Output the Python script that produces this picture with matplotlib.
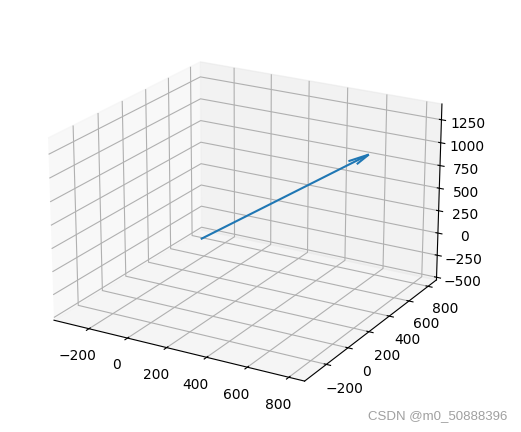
import numpy as np
import matplotlib
matplotlib.use('Agg')
import matplotlib.pyplot as plt

# arrow start and direction
origin = [-23, 274, 0]
vector = [567, 556, 777]
xlim = [-385, 875]
ylim = [-395, 890]
zlim = [-530, 1420]
xticks = [-200, 0, 200, 400, 600, 800]
yticks = [-200, 0, 200, 400, 600, 800]
zticks = [-500, -250, 0, 250, 500, 750, 1000, 1250]

fig = plt.figure(figsize=(5.21, 4.32), dpi=100)
ax = fig.add_axes([-0.033, -0.003, 1.0, 1.0], projection='3d')
ax.view_init(elev=21, azim=-60)
ax.set_box_aspect((4, 4, 2.7))
ax.quiver(origin[0], origin[1], origin[2], vector[0], vector[1], vector[2], arrow_length_ratio=0.1)
ax.set_xlim(xlim)
ax.set_ylim(ylim)
ax.set_zlim(zlim)
ax.set_xticks(xticks)
ax.set_yticks(yticks)
ax.set_zticks(zticks)

fig.text(0.973, 0.022, 'CSDN @m0_50888396', ha='right', va='bottom', fontsize=9.5,
         color='#a0a0a0', family='Liberation Sans')
plt.savefig('out.png', dpi=100)
